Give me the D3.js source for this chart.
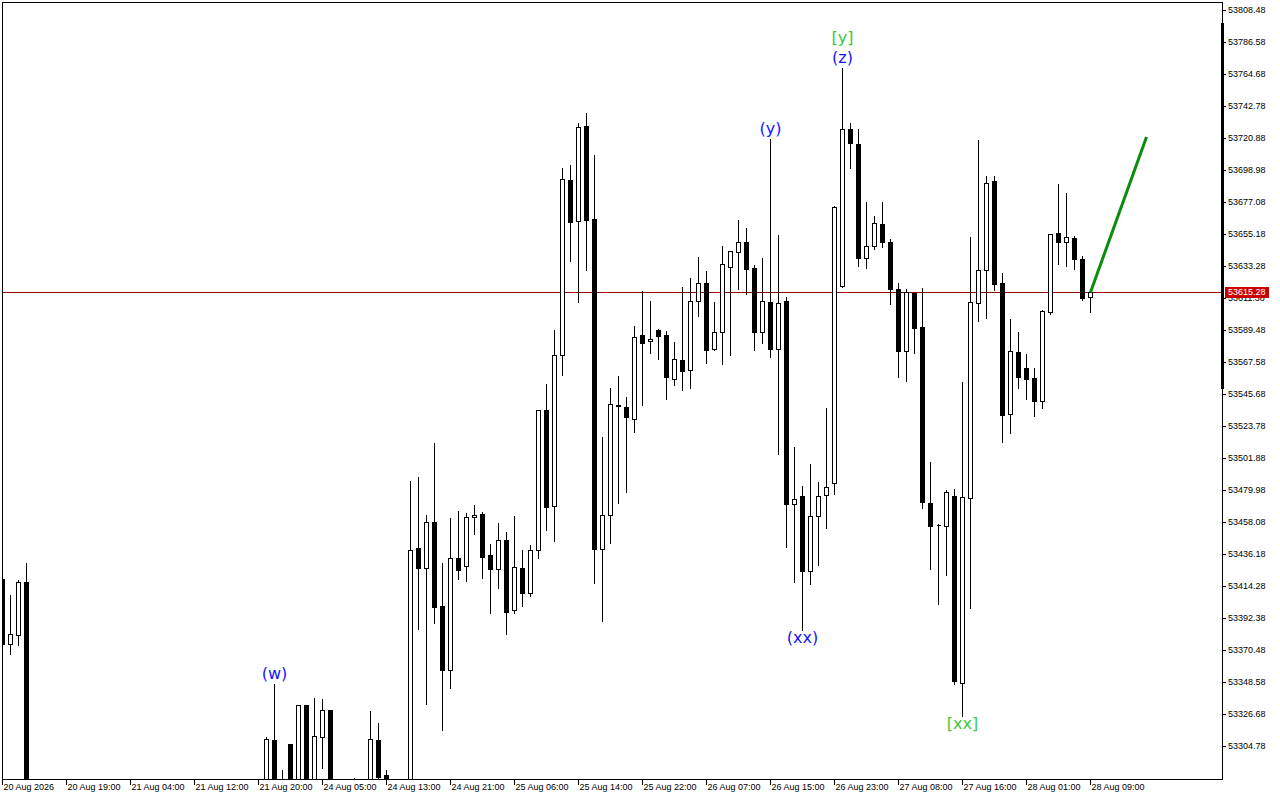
<!DOCTYPE html>
<html>
<head>
<meta charset="utf-8">
<script src="https://cdn.jsdelivr.net/npm/d3@7"></script>
<style>
html,body{margin:0;background:#fff;}
svg{display:block;}
</style>
</head>
<body>
<div id="chart"></div>
<script>
// H1 candles, one per hour slot (gaps in the clock are skipped like in the terminal)
const timeLabels=["20 Aug 2026","20 Aug 19:00","21 Aug 04:00","21 Aug 12:00","21 Aug 20:00","24 Aug 05:00",
  "24 Aug 13:00","24 Aug 21:00","25 Aug 06:00","25 Aug 14:00","25 Aug 22:00","26 Aug 07:00","26 Aug 15:00",
  "26 Aug 23:00","27 Aug 08:00","27 Aug 16:00","28 Aug 01:00","28 Aug 09:00"];
const priceTicks=[53808.48,53786.58,53764.68,53742.78,53720.88,53698.98,53677.08,53655.18,53633.28,53611.38,
  53589.48,53567.58,53545.68,53523.78,53501.88,53479.98,53458.08,53436.18,53414.28,53392.38,53370.48,
  53348.58,53326.68,53304.78];
const opens=[53419.1,53374.4,53380.5,53416.8,53246,53232,53240,53229,53218,53231,
  53242,53236,53224,53233,53246,53255,53249,53238,53244,53257,
  53250,53241,53252,53260,53254,53247,53256,53263,53258,53251,
  53259,53266,53262,53270,53308.9,53266,53306.1,53264,53332.8,53282.4,
  53310.7,53329.4,53270,53262,53268,53275,53271,53308.9,53284.7,53270,
  53266,53274,53440.1,53426.9,53457.8,53400.6,53356.8,53433.4,53428.1,53461.2,
  53463.6,53435.2,53426.0,53445.8,53397.8,53426.6,53409.8,53438.6,53534.5,53469.2,
  53572.7,53691.9,53663.8,53729.0,53665.4,53439.4,53462.6,53537.9,53536.6,53528.8,
  53585.9,53581.7,53589.5,53585.9,53555.8,53568.8,53562.4,53609.1,53621.8,53576.2,
  53587.9,53632.4,53642.6,53649.5,53631.7,53587.9,53608.4,53576.8,53609.1,53470.2,
  53475.7,53424.8,53462.0,53476.4,53484.6,53619.7,53726.8,53716.6,53639.0,53646.9,
  53661.8,53649.5,53617.3,53575.3,53614.6,53591.3,53470.9,53456.1,53455.6,53475.7,
  53348.1,53474.7,53608.2,53630.3,53691.4,53621.4,53532.2,53574.2,53563.3,53556.4,
  53541.1,53602.0,53655.7,53649.5,53652.2,53637.9,53611.8];
const highs=[53419.7,53408.8,53419.1,53430.7,53262,53248,53255,53244,53236,53249,
  53258,53247,53239,53252,53263,53268,53260,53251,53262,53271,
  53263,53256,53267,53274,53266,53259,53270,53276,53269,53264,
  53273,53278,53277,53311.6,53347.7,53289.3,53306.1,53332.8,53333.5,53338.5,
  53337.4,53329.4,53279,53276,53283.5,53280,53329.4,53321.2,53288.8,53279,
  53280,53486.8,53489.5,53463.4,53512.6,53430.7,53461.4,53466.6,53464.6,53470.4,
  53465.6,53443.7,53458.1,53451.7,53462.7,53439.6,53443.0,53535.3,53553.1,53590.5,
  53701.0,53703.3,53731.9,53738.5,53709.9,53516.9,53550.4,53558.7,53544.3,53592.7,
  53616.8,53610.0,53590.7,53589.5,53582.0,53619.6,53625.5,53640.1,53630.5,53609.1,
  53647.6,53644.2,53665.4,53660.0,53634.4,53639.4,53720.7,53655.2,53612.5,53509.9,
  53483.2,53498.3,53485.9,53536.8,53675.0,53769.3,53731.6,53727.5,53677.8,53668.0,
  53677.8,53652.2,53622.1,53618.0,53615.3,53618.7,53499.8,53457.2,53480.7,53481.2,
  53554.6,53653.8,53720.2,53695.6,53695.6,53628.9,53597.7,53588.8,53573.7,53563.9,
  53603.7,53655.0,53690.1,53683.9,53654.3,53640.6,53616.2];
const lows=[53373.9,53368.6,53374.4,53238.0,53221,53214,53226,53208,53202,53220,
  53230,53219,53211,53225,53238,53241,53233,53226,53236,53245,
  53238,53229,53244,53248,53240,53235,53249,53252,53246,53242,
  53250,53255,53254,53262,53258,53255,53258,53259,53261,53268,
  53290.7,53262,53255,53249,53260,53262,53266,53276,53262,53258,
  53259,53270,53385.5,53334.4,53389.8,53316.2,53345.5,53420.0,53418.7,53450.7,
  53420.5,53396.7,53413.3,53382.3,53396.7,53401.3,53408.3,53434.3,53453.6,53445.8,
  53559.6,53637.4,53609.3,53631.4,53417.2,53391.0,53444.6,53472.0,53479.5,53520.6,
  53538.8,53574.4,53570.6,53543.1,53552.3,53549.2,53550.6,53600.0,53567.7,53576.2,
  53566.6,53573.3,53618.4,53614.6,53576.7,53581.5,53572.0,53505.1,53441.9,53417.9,
  53384.6,53416.5,53429.5,53454.9,53477.6,53619.7,53701.2,53633.9,53632.4,53645.5,
  53647.3,53608.2,53558.2,53555.5,53574.6,53468.5,53426.8,53402.8,53422.2,53348.1,
  53326.2,53400.1,53596.3,53598.6,53617.7,53513.5,53519.4,53550.6,53543.1,53531.5,
  53536.6,53601.3,53635.0,53634.3,53632.1,53610.9,53602.7];
const closes=[53374.4,53381.2,53416.8,53246.0,53232,53240,53229,53218,53231,53242,
  53236,53224,53233,53246,53255,53249,53238,53244,53257,53250,
  53241,53252,53260,53254,53247,53256,53263,53258,53251,53259,
  53266,53262,53270,53309.4,53266,53271,53264,53332.8,53270,53311.6,
  53329.4,53270,53262,53268,53275,53271,53309.4,53283.7,53270,53266,
  53274,53438.9,53426.9,53457.8,53400.0,53357.1,53433.3,53425.2,53461.5,53462.7,
  53434.3,53426.0,53445.8,53396.7,53427.1,53409.8,53438.6,53534.5,53468.5,53572.7,
  53692.7,53663.6,53728.1,53664.6,53439.4,53462.6,53538.6,53537.2,53529.7,53584.5,
  53580.3,53583.1,53585.6,53557.5,53569.5,53561.7,53609.1,53621.8,53575.6,53587.9,
  53634.4,53643.3,53649.5,53631.4,53587.9,53609.1,53576.2,53607.7,53470.2,53473.6,
  53424.8,53462.0,53475.7,53481.9,53673.4,53726.8,53717.2,53639.0,53647.3,53662.5,
  53649.5,53617.3,53575.3,53615.3,53591.0,53472.0,53455.6,53455.7,53478.4,53349.5,
  53475.0,53608.4,53630.3,53690.1,53621.1,53531.5,53575.1,53557.5,53556.2,53541.1,
  53602.3,53655.0,53649.5,53652.9,53637.9,53611.6,53615.28];
// wave marks: candle index, text, colour, placed above the high or below the low
const waveLabels=[
  {i:34,text:"(w)",color:"#1414ff",side:"high",level:0},
  {i:96,text:"(y)",color:"#1414ff",side:"high",level:0},
  {i:100,text:"(xx)",color:"#1414ff",side:"low",level:0},
  {i:105,text:"(z)",color:"#1414ff",side:"high",level:0},
  {i:105,text:"[y]",color:"#3cc83c",side:"high",level:1},
  {i:120,text:"[xx]",color:"#3cc83c",side:"low",level:0}
];
const forecast=[{i:136,p:53615.28},{i:143,p:53721.6}];
const lastPrice=53615.28;
const scaleBar=[53799.4,53548.9];

(function(){
  const W=1280,H=800,left=2,right=1222,top=2,bottom=779;
  const candles=opens.map((o,i)=>({i,o,h:highs[i],l:lows[i],c:closes[i]}));
  const svg=d3.select("#chart").append("svg").attr("width",W).attr("height",H)
    .style("font-family","'Liberation Sans',Arial,sans-serif");
  const x=d3.scaleLinear().domain([0,136]).range([2,1090]);
  const y=d3.scaleLinear().domain([53304.78,53808.48]).range([746,10]);
  const px=i=>Math.round(x(i))+.5, py=p=>Math.round(y(p))+.5;

  svg.append("defs").append("clipPath").attr("id","plot")
    .append("rect").attr("x",left+1).attr("y",top+1).attr("width",right-left-1).attr("height",bottom-top-1);

  const plot=svg.append("g").attr("clip-path","url(#plot)");
  // current price line
  plot.append("line").attr("x1",left).attr("x2",right).attr("y1",py(lastPrice)).attr("y2",py(lastPrice))
    .attr("stroke","#9a0000").attr("shape-rendering","crispEdges");

  const cg=plot.append("g").attr("shape-rendering","crispEdges");
  cg.selectAll(".wick").data(candles).join("line")
    .attr("x1",d=>px(d.i)).attr("x2",d=>px(d.i))
    .attr("y1",d=>py(d.h)).attr("y2",d=>py(d.l)+1)
    .attr("stroke","#000");
  cg.selectAll(".body").data(candles).join("path")
    .attr("d",d=>{
      const t=py(Math.max(d.o,d.c)),b=py(Math.min(d.o,d.c)),cx=px(d.i);
      return `M${cx-2},${t}H${cx+2}V${b}H${cx-2}Z`;
    })
    .attr("fill",d=>d.c>=d.o?"#fff":"#000").attr("stroke","#000");

  plot.append("path").datum(forecast)
    .attr("d",d3.line().x(d=>px(d.i)).y(d=>y(d.p)))
    .attr("fill","none").attr("stroke","#0c8c0c").attr("stroke-width",3);

  plot.selectAll(".wave").data(waveLabels).join("text")
    .attr("x",d=>px(d.i)).attr("text-anchor","middle")
    .attr("y",d=>d.side==="high"?y(highs[d.i])-4-d.level*20:y(lows[d.i])+14)
    .attr("fill",d=>d.color).attr("font-family","'DejaVu Sans',sans-serif").attr("font-size",16)
    .text(d=>d.text);

  // frame
  svg.append("rect").attr("x",left+.5).attr("y",top+.5).attr("width",right-left).attr("height",bottom-top)
    .attr("fill","none").attr("stroke","#000").attr("shape-rendering","crispEdges");

  // price scale
  const ay=svg.append("g").attr("transform",`translate(${right},0)`)
    .call(d3.axisRight(y).tickValues(priceTicks).tickSize(4).tickPadding(2).tickFormat(d3.format(".2f")));
  ay.select(".domain").remove();
  ay.selectAll("line").attr("stroke","#000").attr("shape-rendering","crispEdges");
  ay.selectAll("text").attr("fill","#000").attr("font-size",9).attr("font-family","'Liberation Sans',Arial,sans-serif");
  svg.append("rect").attr("x",right-1).attr("width",3)
    .attr("y",Math.round(y(scaleBar[0]))).attr("height",Math.round(y(scaleBar[1])-y(scaleBar[0])))
    .attr("fill","#000");

  // time scale
  const ax=svg.append("g").attr("transform",`translate(0,${bottom})`)
    .call(d3.axisBottom(x).tickValues(d3.range(0,137,8)).tickSize(6).tickPadding(0).tickFormat((d,k)=>timeLabels[k]));
  ax.select(".domain").remove();
  ax.selectAll("line").attr("stroke","#000").attr("shape-rendering","crispEdges");
  ax.selectAll("text").attr("fill","#000").attr("font-size",9).attr("text-anchor","start")
    .attr("x",1).attr("y",5).attr("font-family","'Liberation Sans',Arial,sans-serif");

  // last price tag (covers the grid label just beneath it, as the terminal does)
  const ly=y(lastPrice);
  svg.append("rect").attr("x",right+3).attr("y",Math.round(ly)-5).attr("width",44).attr("height",11).attr("fill","#c80000");
  svg.append("text").attr("x",right+6).attr("y",ly).attr("dy","0.34em").attr("fill","#fff")
    .attr("font-size",9).text(lastPrice.toFixed(2));
})();
</script>
</body>
</html>
